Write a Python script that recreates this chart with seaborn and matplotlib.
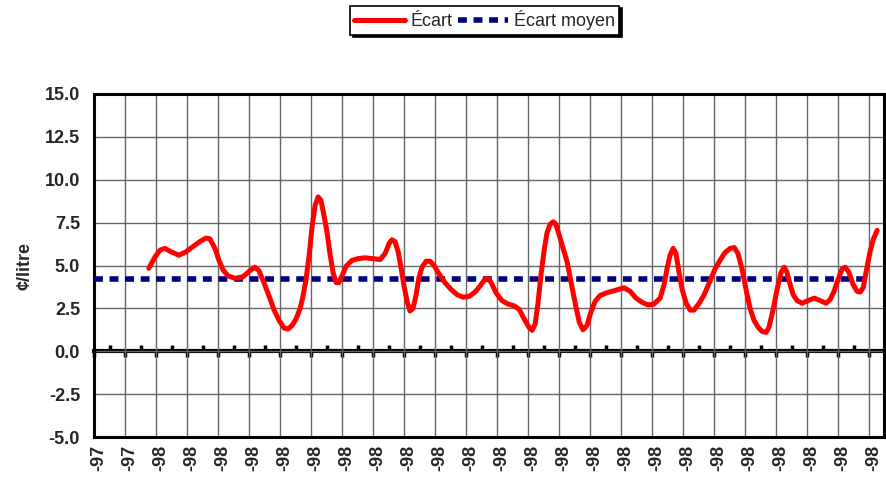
import numpy as np
import pandas as pd
import matplotlib
matplotlib.use('Agg')
import matplotlib.pyplot as plt
import seaborn as sns

# values (x in tick-interval units, y in cents/litre)
ecart_x = [1.77, 1.97, 2.13, 2.29, 2.48, 2.74, 2.97, 3.19, 3.42, 3.61, 3.74, 3.90,
           4.03, 4.16, 4.32, 4.55, 4.81, 5.03, 5.19, 5.32, 5.48, 5.65, 5.81, 5.97,
           6.13, 6.26, 6.39, 6.52, 6.65, 6.74, 6.84, 6.94, 7.03, 7.13, 7.23, 7.32,
           7.42, 7.52, 7.61, 7.71, 7.81, 7.90, 8.00, 8.13, 8.32, 8.52, 8.74, 8.97,
           9.23, 9.39, 9.52, 9.61, 9.71, 9.81, 9.90, 10.00, 10.10, 10.19, 10.29,
           10.39, 10.48, 10.58, 10.71, 10.84, 10.97, 11.13, 11.32, 11.52, 11.71,
           11.90, 12.10, 12.29, 12.45, 12.61, 12.71, 12.81, 12.97, 13.16, 13.35,
           13.55, 13.71, 13.87, 14.03, 14.13, 14.23, 14.32, 14.42, 14.52, 14.61,
           14.71, 14.81, 14.90, 15.00, 15.13, 15.26, 15.39, 15.52, 15.65, 15.77,
           15.90, 16.03, 16.16, 16.32, 16.52, 16.71, 16.90, 17.10, 17.29, 17.48,
           17.68, 17.87, 18.06, 18.26, 18.39, 18.48, 18.58, 18.68, 18.77, 18.87,
           18.97, 19.10, 19.23, 19.35, 19.52, 19.68, 19.87, 20.03, 20.19, 20.35,
           20.52, 20.65, 20.77, 20.90, 21.03, 21.16, 21.29, 21.42, 21.55, 21.68,
           21.77, 21.90, 22.03, 22.16, 22.26, 22.35, 22.45, 22.55, 22.68, 22.84,
           23.03, 23.23, 23.42, 23.61, 23.74, 23.87, 24.00, 24.13, 24.23, 24.35,
           24.48, 24.61, 24.71, 24.81, 24.90, 25.03, 25.13, 25.26]
ecart_y = [4.84, 5.5, 5.9, 6.0, 5.8, 5.6, 5.8, 6.1, 6.4, 6.6, 6.55, 6.0,
           5.3, 4.75, 4.4, 4.25, 4.35, 4.7, 4.9, 4.7, 4.0, 3.2, 2.4, 1.8,
           1.35, 1.3, 1.5, 1.9, 2.5, 3.2, 4.2, 5.6, 7.2, 8.5, 9.0, 8.8,
           7.9, 6.9, 5.7, 4.6, 4.0, 4.0, 4.4, 4.95, 5.3, 5.4, 5.45, 5.4,
           5.35, 5.7, 6.3, 6.5, 6.4, 5.8, 4.9, 3.8, 2.9, 2.35, 2.5,
           3.3, 4.3, 4.9, 5.25, 5.25, 5.0, 4.5, 4.0, 3.6, 3.3,
           3.15, 3.2, 3.45, 3.8, 4.2, 4.25, 4.0, 3.4, 2.95, 2.75,
           2.65, 2.45, 1.9, 1.4, 1.22, 1.6, 2.8, 4.5, 5.9, 6.9,
           7.4, 7.55, 7.4, 6.8, 6.0, 5.2, 4.0, 2.8, 1.7, 1.25,
           1.5, 2.3, 2.9, 3.25, 3.4, 3.5, 3.6, 3.7, 3.5, 3.1,
           2.85, 2.7, 2.75, 3.1, 3.9, 4.8, 5.6, 6.0, 5.7, 4.6,
           3.6, 2.8, 2.4, 2.4, 2.8, 3.3, 4.1, 4.8, 5.3, 5.75,
           6.0, 6.05, 5.7, 4.8, 3.6, 2.5, 1.8, 1.4, 1.15, 1.1,
           1.4, 2.4, 3.6, 4.6, 4.9, 4.6, 3.9, 3.3, 2.95, 2.8,
           2.95, 3.1, 2.95, 2.8, 3.0, 3.5, 4.2, 4.8, 4.9, 4.6,
           3.9, 3.5, 3.45, 3.7, 4.6, 5.8, 6.5, 7.05]
ecart_moyen = 4.2
tick_labels = ['-97', '-97'] + ['-98'] * 24
y_ticks = [-5.0, -2.5, 0.0, 2.5, 5.0, 7.5, 10.0, 12.5, 15.0]

sns.set_style('white')
plt.rcParams['font.family'] = ['Liberation Sans', 'DejaVu Sans']

fig = plt.figure(figsize=(8.86, 4.8), dpi=100)
ax = fig.add_axes([94 / 886, 43 / 480, 790 / 886, 343 / 480])

ticks = np.arange(len(tick_labels))
df = pd.DataFrame({'x': ecart_x, 'y': ecart_y})
moy = pd.DataFrame({'x': ticks, 'y': [ecart_moyen] * len(ticks)})

sns.lineplot(data=moy, x='x', y='y', ax=ax, color='#000080', linewidth=4,
             linestyle=(0, (1.6, 1.2)), dash_capstyle='butt', label='Écart moyen',
             legend=False, zorder=3)
sns.lineplot(data=df, x='x', y='y', ax=ax, color='#ff0000', linewidth=3.6,
             sort=False, estimator=None, solid_joinstyle='round',
             solid_capstyle='round', label='Écart', legend=False, zorder=4)

ax.set_xlim(0, 25.48)
ax.set_ylim(-5, 15)
ax.set_yticks(y_ticks)
ax.set_yticklabels([f'{v:.1f}' for v in y_ticks], fontsize=13, fontweight='bold')
# gridlines on major ticks, labels on minor ticks placed slightly to the right
ax.set_xticks(ticks)
ax.set_xticklabels([''] * len(ticks))
ax.set_xticks(ticks + 0.16, minor=True)
ax.set_xticklabels(tick_labels, minor=True, rotation=90, fontsize=13,
                   fontweight='bold', va='top')
ax.tick_params(axis='both', which='both', length=0)
ax.tick_params(axis='y', pad=10)
ax.tick_params(axis='x', which='minor', pad=6)
ax.grid(True, which='major', color='#666666', linewidth=1)
ax.set_axisbelow(True)
for s in ax.spines.values():
    s.set_color('black')
    s.set_linewidth(2.2)
ax.set_xlabel('')
ax.set_ylabel('¢/litre', fontsize=13, fontweight='bold', labelpad=8)

# axis line crossing at zero with tick marks
sec = ax.secondary_xaxis(0.25)
sec.set_xticks(ticks)
sec.set_xticks(ticks[:-1] + 0.5, minor=True)
sec.tick_params(which='major', direction='out', length=4, width=2.5, labelbottom=False,
                color='black')
sec.tick_params(which='minor', direction='in', length=4, width=2.5, color='black')
sec.spines['bottom'].set_linewidth(3)
sec.spines['bottom'].set_color('black')

handles, labels = ax.get_legend_handles_labels()
order = [labels.index('Écart'), labels.index('Écart moyen')]
leg = fig.legend([handles[i] for i in order], [labels[i] for i in order],
                 loc='center', bbox_to_anchor=(0.547, 0.958), ncol=2, fontsize=13,
                 frameon=True, fancybox=False, shadow={'color': 'black', 'alpha': 1},
                 edgecolor='black', handlelength=2.8, handletextpad=0.3,
                 columnspacing=0.3, borderpad=0.25, borderaxespad=0)
leg.get_frame().set_linewidth(1.2)

fig.savefig('out.png', dpi=100)
